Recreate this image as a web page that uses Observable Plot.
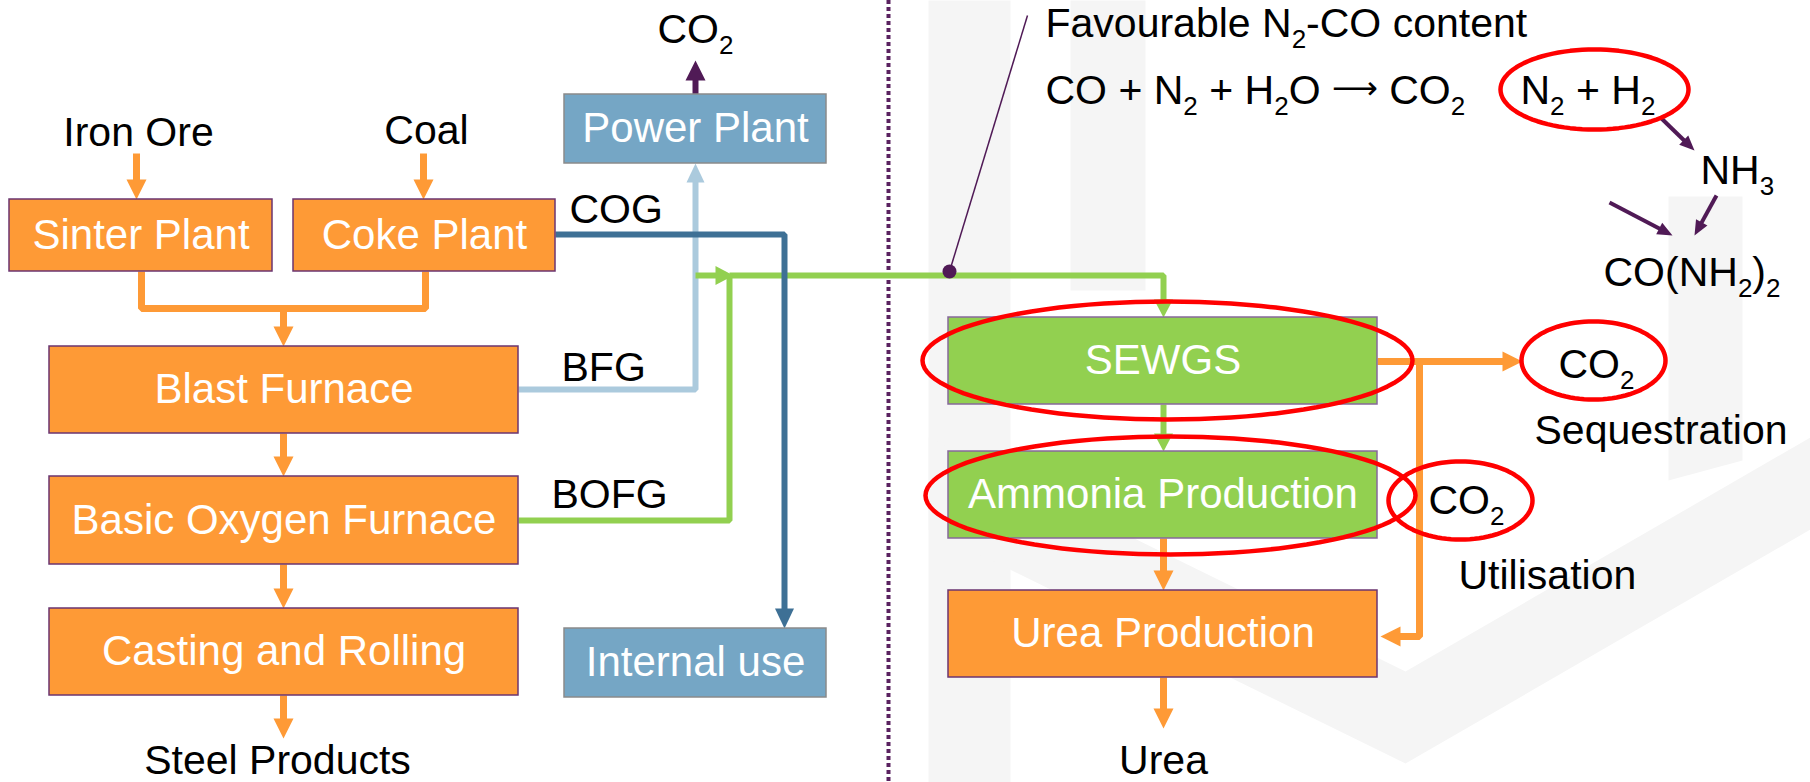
<!DOCTYPE html>
<html>
<head>
<meta charset="utf-8">
<script src="https://cdn.jsdelivr.net/npm/d3@7"></script>
<script src="https://cdn.jsdelivr.net/npm/@observablehq/plot@0.6"></script>
<style>
  html, body { margin: 0; padding: 0; background: #ffffff; }
  #chart svg { display: block; }
</style>
</head>
<body>
<div id="chart"></div>
<script>
// ---------- diagram data (coordinates in the 1810 x 782 diagram space) ----------
const W = 1810, H = 782;

// process boxes
const boxNames  = ["Sinter Plant", "Coke Plant", "Blast Furnace", "Basic Oxygen Furnace", "Casting and Rolling",
                   "Power Plant", "Internal use", "SEWGS", "Ammonia Production", "Urea Production"];
const boxKinds  = ["process", "process", "process", "process", "process",
                   "utility", "utility", "capture", "capture", "process"];
const boxLeft   = [9, 293, 49, 49, 49, 564, 564, 948, 948, 948];
const boxRight  = [272, 555, 518, 518, 518, 826, 826, 1377, 1377, 1377];
const boxTop    = [199, 199, 346, 476, 608, 94, 628, 317, 451, 590];
const boxBottom = [271, 271, 433, 564, 695, 163, 697, 404, 538, 677];

// free labels ("_n" marks a subscript)
const labelTexts  = ["Iron Ore", "Coal", "Steel Products", "CO_2", "COG", "BFG", "BOFG", "Urea",
                     "Favourable N_2-CO content", "CO + N_2 + H_2O \u2192 CO_2", "N_2 + H_2", "NH_3",
                     "CO(NH_2)_2", "CO_2", "Sequestration", "CO_2", "Utilisation"];
const labelX      = [138, 426, 277, 695, 569, 561, 551, 1163, 1045, 1045, 1520, 1700, 1603, 1558, 1534, 1428, 1458];
const labelY      = [145, 143, 773, 42, 222, 380, 507, 773, 36, 103, 103, 183, 285, 377, 443, 513, 588];
const labelAlign  = ["middle", "middle", "middle", "middle", "start", "start", "start", "middle",
                     "start", "start", "start", "start", "start", "start", "start", "start", "start"];

// connectors: stream type, polyline points, arrowhead at the end?
const flowGas    = ["feed", "feed", "feed", "feed", "feed", "feed", "feed",
                    "emission", "COG", "BFG", "BOFG", "BOFG", "BOFG", "BOFG",
                    "feed", "feed", "feed", "feed", "reaction", "reaction", "reaction"];
const flowPoints = [
  [[136, 153], [136, 199]],
  [[423, 153], [423, 199]],
  [[141, 271], [141, 308], [425, 308], [425, 271]],
  [[283, 308], [283, 346]],
  [[283, 433], [283, 476]],
  [[283, 564], [283, 608]],
  [[283, 695], [283, 738]],
  [[695, 94], [695, 60]],
  [[555, 234], [784, 234], [784, 628]],
  [[518, 389], [695, 389], [695, 163]],
  [[518, 520], [729, 520], [729, 275]],
  [[695, 275], [733, 275]],
  [[729, 275], [1163, 275], [1163, 317]],
  [[1163, 404], [1163, 451]],
  [[1163, 538], [1163, 590]],
  [[1163, 677], [1163, 728]],
  [[1377, 361], [1522, 361]],
  [[1419, 361], [1419, 636], [1380, 636]],
  [[1660, 117], [1694, 150]],
  [[1716, 195], [1694, 235]],
  [[1609, 202], [1672, 235]]
];
const flowHead   = [true, true, false, true, true, true, true,
                    true, true, true, false, true, true, true,
                    true, true, true, true, true, true, true];

// red highlight rings
const ringCx = [1167, 1170, 1594, 1593, 1460];
const ringCy = [360, 495, 89, 360, 500];
const ringRx = [245, 245, 94, 72, 72];
const ringRy = [59, 59, 40, 39, 39];

// callout "Favourable N2-CO content"
const calloutStart = [949, 271];
const calloutEnd   = [1027, 15];

// faint background logo shapes
const logoShapes = [
  [[928, 0], [1010, 0], [1010, 782], [928, 782]],
  [[1070, 0], [1145, 0], [1145, 290], [1070, 290]],
  [[1668, 196], [1742, 196], [1742, 460], [1668, 480]],
  [[928, 437], [1405, 671], [1810, 437], [1810, 529], [1405, 763], [928, 529]]
];

// ---------- styles ----------
const FONT = "'Liberation Sans', Arial, Helvetica, sans-serif";
const kindFill   = {process: "#fe9a36", utility: "#75a6c5", capture: "#92d050"};
const kindStroke = {process: "#6b3570", utility: "#8a8a8a", capture: "#86689a"};
const gasColor   = {feed: "#fe9a36", emission: "#501a56", COG: "#3e7095", BFG: "#abcadd", BOFG: "#92d050", reaction: "#501a56"};
const gasWidth   = {feed: 7, emission: 6, COG: 6, BFG: 6, BOFG: 6, reaction: 4};
const headLen    = {feed: 20, emission: 20, COG: 20, BFG: 19, BOFG: 18, reaction: 15};
const headWid    = {feed: 20, emission: 20, COG: 19, BFG: 18, BOFG: 19, reaction: 13};
const gasOrder   = ["BFG", "BOFG", "feed", "COG", "emission", "reaction"];

// ---------- derived tables ----------
const boxes = boxNames.map((name, i) => ({
  name, kind: boxKinds[i], x1: boxLeft[i], x2: boxRight[i], y1: boxTop[i], y2: boxBottom[i]
}));
const labels = labelTexts.map((text, i) => ({text, x: labelX[i], y: labelY[i], align: labelAlign[i]}));

const lineRows = [], headRows = [];
flowPoints.forEach((pts, i) => {
  const gas = flowGas[i];
  const p = pts.map(d => d.slice());
  if (flowHead[i]) {
    const [tx, ty] = p[p.length - 1];
    const [px, py] = p[p.length - 2];
    const len = Math.hypot(tx - px, ty - py);
    const ux = (tx - px) / len, uy = (ty - py) / len;
    const L = headLen[gas], Wd = headWid[gas];
    const bx = tx - L * ux, by = ty - L * uy;
    const nx = -uy, ny = ux;
    headRows.push({id: i, gas, x: tx, y: ty});
    headRows.push({id: i, gas, x: bx + nx * Wd / 2, y: by + ny * Wd / 2});
    headRows.push({id: i, gas, x: bx - nx * Wd / 2, y: by - ny * Wd / 2});
    p[p.length - 1] = [tx - 0.6 * L * ux, ty - 0.6 * L * uy];
  }
  p.forEach(([x, y]) => lineRows.push({id: i, gas, x, y}));
});

const ringRows = [];
ringCx.forEach((cx, i) => {
  for (let k = 0; k < 96; k++) {
    const a = (k / 96) * 2 * Math.PI;
    ringRows.push({id: i, x: cx + ringRx[i] * Math.cos(a), y: ringCy[i] + ringRy[i] * Math.sin(a)});
  }
});

const logoRows = [];
logoShapes.forEach((shape, i) => shape.forEach(([x, y]) => logoRows.push({id: i, x, y})));

// ---------- marks ----------
const marks = [];
marks.push(Plot.line(logoRows, {x: "x", y: "y", z: "id", fill: "#f5f5f5", stroke: "none", curve: "linear-closed"}));
marks.push(Plot.ruleX([888], {y1: 0, y2: H, stroke: "#5a2260", strokeWidth: 4, strokeDasharray: "4,3"}));

for (const gas of gasOrder) {
  marks.push(Plot.line(lineRows.filter(d => d.gas === gas), {
    x: "x", y: "y", z: "id", stroke: gasColor[gas], strokeWidth: gasWidth[gas],
    strokeLinejoin: "miter", strokeLinecap: "butt", curve: "linear"
  }));
  marks.push(Plot.line(headRows.filter(d => d.gas === gas), {
    x: "x", y: "y", z: "id", fill: gasColor[gas], stroke: "none", curve: "linear-closed"
  }));
}

marks.push(Plot.rect(boxes, {
  x1: "x1", x2: "x2", y1: "y1", y2: "y2",
  fill: d => kindFill[d.kind], stroke: d => kindStroke[d.kind], strokeWidth: 1.5
}));
marks.push(Plot.text(boxes, {
  x: d => (d.x1 + d.x2) / 2, y: d => (d.y1 + d.y2) / 2, text: "name",
  fill: "#ffffff", fontSize: 42, fontFamily: FONT, lineAnchor: "middle"
}));
marks.push(Plot.text(labels.filter(d => d.align === "middle"), {
  x: "x", y: "y", text: "text", fill: "#000000", fontSize: 41, fontFamily: FONT,
  lineAnchor: "bottom", textAnchor: "middle"
}));
marks.push(Plot.text(labels.filter(d => d.align === "start"), {
  x: "x", y: "y", text: "text", fill: "#000000", fontSize: 41, fontFamily: FONT,
  lineAnchor: "bottom", textAnchor: "start"
}));

marks.push(Plot.line(ringRows, {x: "x", y: "y", z: "id", stroke: "#ff0000", strokeWidth: 4.5, curve: "linear-closed"}));

marks.push(Plot.link([{a: calloutStart, b: calloutEnd}], {
  x1: d => d.a[0], y1: d => d.a[1], x2: d => d.b[0], y2: d => d.b[1],
  stroke: "#501a56", strokeWidth: 1.5
}));
marks.push(Plot.dot([calloutStart], {x: d => d[0], y: d => d[1], r: 7, fill: "#501a56", stroke: "none"}));

const svg = Plot.plot({
  width: W, height: H, margin: 0,
  x: {domain: [0, W], axis: null},
  y: {domain: [0, H], axis: null, reverse: true},
  color: {type: "identity"},
  style: {background: "#ffffff", fontFamily: FONT, overflow: "visible"},
  marks
});

// turn "_n" into real subscript tspans; draw the reaction arrow as a long thin arrow
function subscriptify(root) {
  const NS = "http://www.w3.org/2000/svg";
  const SUB_SIZE = 26, SUB_SHIFT = 11, ARROW_SHIFT = -5;
  root.querySelectorAll("text").forEach(t => {
    const s = t.textContent;
    if (!s.includes("_") && !s.includes("\u2192")) return;
    while (t.firstChild) t.removeChild(t.firstChild);
    const parts = s.split(/(_\d|\u2192)/);
    let offset = 0;
    parts.forEach(part => {
      if (!part.length) return;
      const ts = document.createElementNS(NS, "tspan");
      let target = 0;
      if (part[0] === "_") {
        ts.setAttribute("font-size", SUB_SIZE);
        ts.textContent = part.slice(1);
        target = SUB_SHIFT;
      } else if (part === "\u2192") {
        ts.setAttribute("font-family", "'DejaVu Sans', sans-serif");
        ts.setAttribute("font-size", 32);
        ts.textContent = "\u27F6";
        target = ARROW_SHIFT;
      } else {
        ts.textContent = part;
      }
      if (target !== offset) ts.setAttribute("dy", target - offset);
      offset = target;
      t.appendChild(ts);
    });
  });
}
subscriptify(svg);
document.getElementById("chart").appendChild(svg);
</script>
</body>
</html>
